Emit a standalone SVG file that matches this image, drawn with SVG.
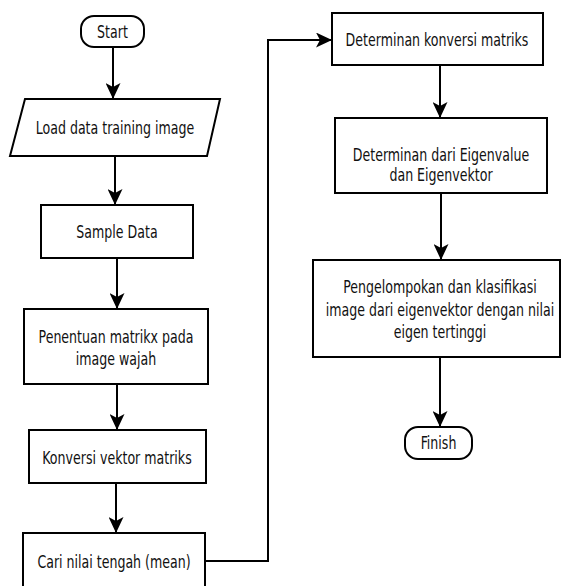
<svg xmlns="http://www.w3.org/2000/svg" width="561" height="586" viewBox="0 0 561 586">
<style>
.n{fill:#fff;stroke:#000;stroke-width:2}
.t{font-family:"DejaVu Sans Condensed","DejaVu Sans",sans-serif;font-stretch:condensed;font-size:14px;fill:#111;text-anchor:middle;dominant-baseline:central}
.c{fill:none;stroke:#000;stroke-width:2}
</style>
<defs>
<marker id="ah" markerUnits="userSpaceOnUse" markerWidth="16" markerHeight="15" viewBox="0 0 16 15" refX="15" refY="7.5" orient="auto">
<path d="M0,0 L16,7.5 L0,15 L4,7.5 z" fill="#000"/>
</marker>
</defs>
<rect width="561" height="586" fill="#fff"/>
<g id="connectors">
<path class="c" d="M113,47 V98" marker-end="url(#ah)"/>
<path class="c" d="M115,156 V204" marker-end="url(#ah)"/>
<path class="c" d="M117,258 V308" marker-end="url(#ah)"/>
<path class="c" d="M117,384 V429" marker-end="url(#ah)"/>
<path class="c" d="M116,483 V532" marker-end="url(#ah)"/>
<path class="c" d="M205,561 H268 V40 H331" marker-end="url(#ah)"/>
<path class="c" d="M440,65 V117" marker-end="url(#ah)"/>
<path class="c" d="M441,193 V259" marker-end="url(#ah)"/>
<path class="c" d="M440,357 V426" marker-end="url(#ah)"/>
</g>
<g id="start">
<rect class="n" x="81" y="16" width="63" height="31" rx="13"/>
<text class="t" transform="translate(112.5,33) scale(1,1.22)">Start</text>
</g>
<g id="load">
<polygon class="n" points="25,99 220,99 207,156 10,156"/>
<text class="t" transform="translate(115,129) scale(1,1.22)">Load data training image</text>
</g>
<g id="sample">
<rect class="n" x="41" y="205" width="152" height="53"/>
<text class="t" transform="translate(117,233) scale(1,1.22)">Sample Data</text>
</g>
<g id="penentuan">
<rect class="n" x="24" y="309" width="184" height="75"/>
<text class="t" transform="translate(116,338) scale(1,1.22)">Penentuan matrikx pada</text>
<text class="t" transform="translate(116,360) scale(1,1.22)">image wajah</text>
</g>
<g id="konversi">
<rect class="n" x="29" y="430" width="177" height="53"/>
<text class="t" transform="translate(117,459) scale(1,1.22)">Konversi vektor matriks</text>
</g>
<g id="cari">
<rect class="n" x="23" y="533" width="182" height="62"/>
<text class="t" transform="translate(114,563) scale(1,1.22)">Cari nilai tengah (mean)</text>
</g>
<g id="determinan">
<rect class="n" x="332" y="13" width="211" height="52"/>
<text class="t" transform="translate(437,41) scale(1,1.22)">Determinan konversi matriks</text>
</g>
<g id="eigen">
<rect class="n" x="335" y="118" width="212" height="75"/>
<text class="t" transform="translate(441,156) scale(1,1.22)">Determinan dari Eigenvalue</text>
<text class="t" transform="translate(441,176) scale(1,1.22)">dan Eigenvektor</text>
</g>
<g id="pengelompokan">
<rect class="n" x="313" y="260" width="247" height="97"/>
<text class="t" transform="translate(440,288) scale(1,1.22)">Pengelompokan dan klasifikasi</text>
<text class="t" transform="translate(440,311) scale(1,1.22)">image dari eigenvektor dengan nilai</text>
<text class="t" transform="translate(440,333) scale(1,1.22)">eigen tertinggi</text>
</g>
<g id="finish">
<rect class="n" x="405" y="427" width="67" height="32" rx="13"/>
<text class="t" transform="translate(438.5,444) scale(1,1.22)">Finish</text>
</g>
</svg>
